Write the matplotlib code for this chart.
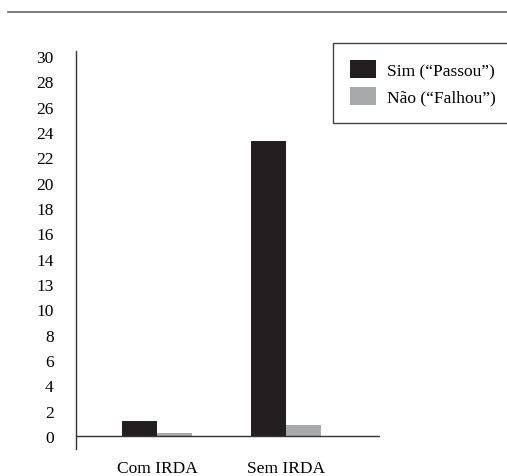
import matplotlib.pyplot as plt
from matplotlib.lines import Line2D
import numpy as np

# data
groups = ['Com IRDA', 'Sem IRDA']
sim_passou = [1.2, 23.3]
nao_falhou = [0.2, 0.9]
series_names = ['Sim (\u201cPassou\u201d)', 'N\u00e3o (\u201cFalhou\u201d)']
tick_values = [0, 2, 4, 6, 8, 10, 12, 14, 16, 18, 20, 22, 24, 26, 28, 30]
tick_labels = ['0', '2', '4', '6', '8', '10', '13', '14', '16', '18', '20',
               '22', '24', '26', '28', '30']

plt.rcParams['font.family'] = ['Liberation Serif', 'DejaVu Serif']

W, H = 507, 477
fig = plt.figure(figsize=(W / 100, H / 100), dpi=100)
ax = fig.add_axes([76 / W, 27 / H, (380 - 76) / W, (450 - 52) / H])

x = np.arange(len(groups))
w = 0.27
b1 = ax.bar(x - w / 2, sim_passou, w, color='#231f20', label=series_names[0])
b2 = ax.bar(x + w / 2, nao_falhou, w, color='#a7a9ac', label=series_names[1])

ax.set_xlim(-0.628, 1.729)
ax.set_ylim(-1.03, 30.4)
for s in ['top', 'right', 'bottom']:
    ax.spines[s].set_visible(False)
ax.spines['left'].set_color('#333333')
ax.spines['left'].set_linewidth(1)
ax.axhline(0, color='#333333', lw=1)

ax.set_yticks(tick_values)
ax.set_yticklabels(tick_labels)
ax.set_xticks(x)
ax.set_xticklabels(groups)
ax.tick_params(axis='y', length=0, pad=16, labelsize=12.5)
ax.tick_params(axis='x', length=0, pad=8, labelsize=12.5)

# top rule
fig.add_artist(Line2D([8 / W, 1], [1 - 13 / H, 1 - 13 / H], color='#666666', lw=1.2))

leg = fig.legend(handles=[b1, b2], loc='upper left',
                 bbox_to_anchor=(333 / W, 1 - 44 / H - 0.01, 180 / W, 0.01), mode='expand',
                 borderaxespad=0, fontsize=12.5, handlelength=1.5, handleheight=1.2,
                 handletextpad=0.6, labelspacing=0.45, borderpad=1.0,
                 fancybox=False, framealpha=1)
leg.get_frame().set_edgecolor('#444444')
leg.get_frame().set_linewidth(1)

fig.savefig('out.png', dpi=100)
